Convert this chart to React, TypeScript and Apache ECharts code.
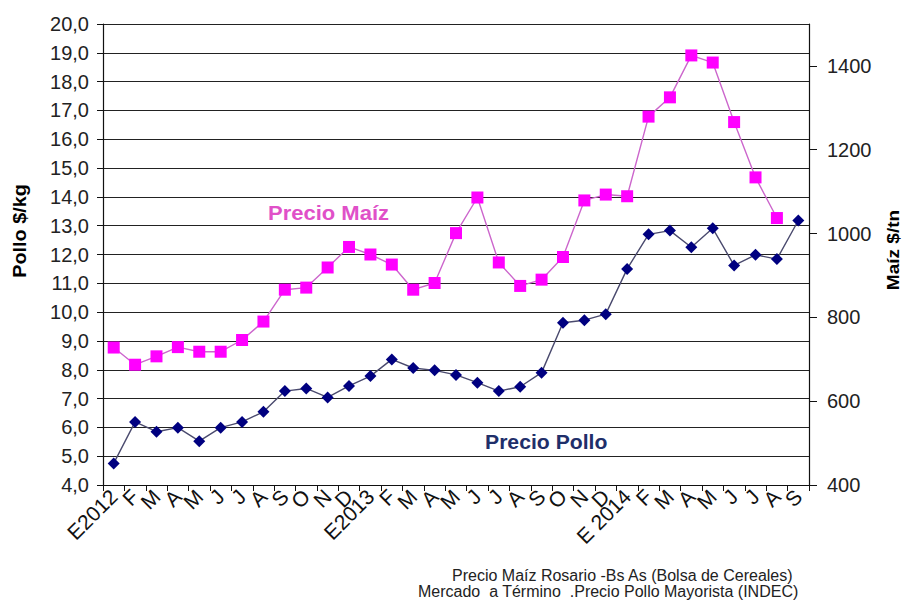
import React, { useEffect, useRef } from "react";
import * as echarts from "echarts";

const months = [
  "E2012", "F", "M", "A", "M", "J", "J", "A", "S", "O", "N", "D",
  "E2013", "F", "M", "A", "M", "J", "J", "A", "S", "O", "N", "D",
  "E 2014", "F", "M", "A", "M", "J", "J", "A", "S",
];

// Precio Pollo ($/kg), left axis
const polloValues = [
  4.75, 6.19, 5.85, 5.99, 5.52, 5.99, 6.19, 6.54, 7.26, 7.35, 7.04, 7.44,
  7.78, 8.36, 8.06, 7.98, 7.82, 7.55, 7.26, 7.41, 7.9, 9.63, 9.72, 9.93,
  11.5, 12.7, 12.83, 12.25, 12.91, 11.62, 11.99, 11.84, 13.18,
];

// Precio Maíz ($/tn), right axis
const maizValues: (number | null)[] = [
  728, 687, 707, 729, 718, 718, 746, 790, 866, 871, 919, 968,
  950, 926, 866, 882, 1001, 1086, 931, 875, 890, 944, 1079, 1093,
  1089, 1279, 1325, 1425, 1408, 1266, 1134, 1037, null,
];

const leftTicks = [4, 20, 1];
const rightTickValues = [400, 600, 800, 1000, 1200, 1400];

const FONT = '"Liberation Sans", Arial, sans-serif';

export default function App() {
  const ref = useRef<HTMLDivElement>(null);
  useEffect(() => {
    if (!ref.current) return;
    document.body.style.margin = "0";
    const chart = echarts.init(ref.current, undefined, { renderer: "svg" });
    chart.setOption({
      animation: false,
      backgroundColor: "#ffffff",
      grid: { left: 103, right: 95, top: 24, bottom: 115, containLabel: false },
      xAxis: {
        type: "category",
        data: months,
        boundaryGap: true,
        axisLine: { lineStyle: { color: "#111", width: 1.2 } },
        axisTick: { show: true, length: 6, lineStyle: { color: "#111" } },
        axisLabel: {
          rotate: 45,
          interval: 0,
          margin: 8,
          fontSize: 21,
          fontFamily: FONT,
          color: "#111",
        },
      },
      yAxis: [
        {
          type: "value",
          min: leftTicks[0],
          max: leftTicks[1],
          interval: leftTicks[2],
          position: "left",
          axisLine: { show: true, lineStyle: { color: "#111", width: 1.2 } },
          axisTick: { show: true, length: 6, lineStyle: { color: "#111" } },
          splitLine: { show: true, lineStyle: { color: "#222", width: 1.2 } },
          axisLabel: {
            fontSize: 20,
            fontFamily: FONT,
            color: "#222",
            margin: 14,
            formatter: (v: number) => v.toFixed(1).replace(".", ","),
          },
        },
        {
          type: "value",
          min: 400,
          max: 1500,
          interval: 200,
          position: "right",
          axisLine: { show: true, lineStyle: { color: "#111", width: 1.2 } },
          axisTick: {
            show: true,
            length: 8,
            customValues: rightTickValues,
            lineStyle: { color: "#111" },
          },
          splitLine: { show: false },
          axisLabel: {
            fontSize: 20,
            fontFamily: FONT,
            color: "#222",
            margin: 18,
            customValues: rightTickValues,
            formatter: (v: number) => String(v),
          },
        },
      ],
      series: [
        {
          name: "Precio Pollo",
          type: "line",
          yAxisIndex: 0,
          data: polloValues,
          symbol: "diamond",
          symbolSize: 12,
          itemStyle: { color: "#000080" },
          lineStyle: { color: "#4a4a6e", width: 1.4 },
          z: 3,
        },
        {
          name: "Precio Maíz",
          type: "line",
          yAxisIndex: 1,
          data: maizValues,
          symbol: "rect",
          symbolSize: 12,
          itemStyle: { color: "#FF00FF" },
          lineStyle: { color: "#CC66CC", width: 1.4 },
          z: 4,
        },
      ],
      graphic: [
        {
          type: "text",
          x: 20,
          y: 231,
          rotation: Math.PI / 2,
          scaleX: 1.1,
          style: {
            text: "Pollo $/kg",
            fontSize: 18,
            fontWeight: "bold",
            fontFamily: FONT,
            fill: "#000",
            align: "center",
            verticalAlign: "middle",
          },
        },
        {
          type: "text",
          x: 893,
          y: 250,
          rotation: Math.PI / 2,
          scaleX: 1.12,
          style: {
            text: "Maíz $/tn",
            fontSize: 17,
            fontWeight: "bold",
            fontFamily: FONT,
            fill: "#000",
            align: "center",
            verticalAlign: "middle",
          },
        },
        {
          type: "text",
          x: 268,
          y: 213,
          scaleX: 1.1,
          style: {
            text: "Precio Maíz",
            fontSize: 20,
            fontWeight: "bold",
            fontFamily: FONT,
            fill: "#E050C8",
            align: "left",
            verticalAlign: "middle",
          },
        },
        {
          type: "text",
          x: 485,
          y: 442,
          scaleX: 1.06,
          style: {
            text: "Precio Pollo",
            fontSize: 20,
            fontWeight: "bold",
            fontFamily: FONT,
            fill: "#1F2F6A",
            align: "left",
            verticalAlign: "middle",
          },
        },
        {
          type: "text",
          x: 452,
          y: 575,
          style: {
            text: "Precio Maíz Rosario -Bs As (Bolsa de Cereales)",
            fontSize: 16,
            fontFamily: FONT,
            fill: "#222",
            align: "left",
            verticalAlign: "middle",
          },
        },
        {
          type: "text",
          x: 418,
          y: 591,
          style: {
            text: "Mercado  a Término  .Precio Pollo Mayorista (INDEC)",
            fontSize: 16,
            fontFamily: FONT,
            fill: "#222",
            align: "left",
            verticalAlign: "middle",
          },
        },
      ],
    });
    return () => chart.dispose();
  }, []);
  return (
    <div
      ref={ref}
      style={{ position: "fixed", left: 0, top: 0, width: 904, height: 600 }}
    />
  );
}
